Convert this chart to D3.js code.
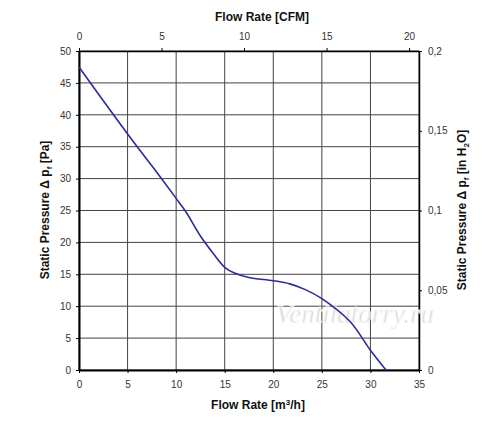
<!DOCTYPE html>
<html>
<head>
<meta charset="utf-8">
<script src="https://cdn.jsdelivr.net/npm/d3@7"></script>
<style>
  body { margin: 0; background: #fff; }
  text { font-family: Arial, "Liberation Sans", sans-serif; }
</style>
</head>
<body>
<svg id="chart" width="500" height="421"></svg>
<script>
// curve: flow in m3/h, static pressure in Pa
var flowM3h = [0, 2.5, 5, 7.5, 10, 11, 12.5, 13.8, 15, 16, 17.5, 20, 21.7, 23.3, 25, 27.9, 30, 31.6];
var pressurePa = [47.5, 42.2, 37, 32, 26.9, 24.8, 21, 18.3, 16.1, 15.2, 14.5, 14.0, 13.5, 12.6, 11.2, 7.6, 3.1, 0];

var bottomTicks = [0, 5, 10, 15, 20, 25, 30, 35];
var leftTicks = [0, 5, 10, 15, 20, 25, 30, 35, 40, 45, 50];
var topTicks = [0, 5, 10, 15, 20];
var rightTicks = [0, 0.05, 0.1, 0.15, 0.2];

var M3H_TO_CFM = 0.5886;

var svg = d3.select("#chart");
// plot box (note: "top" is a reserved window global, so use p-prefixed names)
var pLeft = 79, pRight = 419, pTop = 51, pBottom = 370;

var x = d3.scaleLinear().domain([0, 35]).range([pLeft, pRight]);
var y = d3.scaleLinear().domain([0, 50]).range([pBottom, pTop]);
var xTop = d3.scaleLinear().domain([0, 35 * M3H_TO_CFM]).range([pLeft, pRight]);
var yRight = d3.scaleLinear().domain([0, 0.2]).range([pBottom, pTop]);

// grid
var grid = svg.append("g");
grid.selectAll(".vg")
    .data(bottomTicks)
    .enter().append("line")
    .attr("x1", function (d) { return x(d); })
    .attr("x2", function (d) { return x(d); })
    .attr("y1", pTop).attr("y2", pBottom)
    .style("stroke", "#444").style("stroke-width", 1);
grid.selectAll(".hg")
    .data(leftTicks)
    .enter().append("line")
    .attr("x1", pLeft).attr("x2", pRight)
    .attr("y1", function (d) { return y(d); })
    .attr("y2", function (d) { return y(d); })
    .style("stroke", "#444").style("stroke-width", 1);

function styleAxis(g, w) {
    g.select(".domain").style("stroke", "#000").style("stroke-width", w);
    g.selectAll(".tick line").style("stroke", "#000");
    g.selectAll(".tick text").style("font-size", "10px").style("fill", "#333");
}

var comma = function (d) { return String(d).replace(".", ","); };

var gB = svg.append("g").attr("transform", "translate(0," + pBottom + ")")
    .call(d3.axisBottom(x).tickValues(bottomTicks).tickSize(3).tickSizeOuter(0).tickPadding(8));
styleAxis(gB, 2);
var gL = svg.append("g").attr("transform", "translate(" + pLeft + ",0)")
    .call(d3.axisLeft(y).tickValues(leftTicks).tickSize(3).tickSizeOuter(0).tickPadding(5));
styleAxis(gL, 2);
var gT = svg.append("g").attr("transform", "translate(0," + pTop + ")")
    .call(d3.axisTop(xTop).tickValues(topTicks).tickSize(3).tickSizeOuter(0).tickPadding(8));
styleAxis(gT, 1.5);
var gR = svg.append("g").attr("transform", "translate(" + pRight + ",0)")
    .call(d3.axisRight(yRight).tickValues(rightTicks).tickFormat(comma).tickSize(3).tickSizeOuter(0).tickPadding(6));
styleAxis(gR, 1.5);

// watermark
svg.append("text")
    .attr("x", 355).attr("y", 323)
    .attr("text-anchor", "middle")
    .style("font-family", "'Liberation Serif', 'DejaVu Serif', serif")
    .style("font-style", "italic")
    .style("font-size", "27px")
    .style("fill", "#d2d2d2")
    .style("stroke", "#fafafa").style("stroke-width", 0.8)
    .style("opacity", 0.9)
    .text("Ventilatorry.ru");

// curve
var pts = flowM3h.map(function (f, i) { return [f, pressurePa[i]]; });
var line = d3.line()
    .x(function (d) { return x(d[0]); })
    .y(function (d) { return y(d[1]); })
    .curve(d3.curveCatmullRom.alpha(0.5));
svg.append("path")
    .datum(pts)
    .attr("d", line)
    .style("fill", "none")
    .style("stroke", "#2b2b9c")
    .style("stroke-width", 1.6);

// titles
svg.append("text")
    .attr("x", 262).attr("y", 21).attr("text-anchor", "middle")
    .style("font-size", "12px").style("font-weight", "bold").style("fill", "#111")
    .text("Flow Rate [CFM]");

var bt = svg.append("text")
    .attr("x", 258).attr("y", 409).attr("text-anchor", "middle")
    .style("font-size", "12px").style("font-weight", "bold").style("fill", "#111");
bt.append("tspan").text("Flow Rate [m");
bt.append("tspan").attr("dy", -4).style("font-size", "8px").text("3");
bt.append("tspan").attr("dy", 4).text("/h]");

var lt = svg.append("text")
    .attr("transform", "translate(49,210) rotate(-90)")
    .attr("text-anchor", "middle")
    .style("font-size", "12px").style("font-weight", "bold").style("fill", "#111");
lt.append("tspan").text("Static Pressure Δ p");
lt.append("tspan").attr("dy", 3).style("font-size", "8px").text("f");
lt.append("tspan").attr("dy", -3).text(" [Pa]");

var rt = svg.append("text")
    .attr("transform", "translate(466,210) rotate(-90)")
    .attr("text-anchor", "middle")
    .style("font-size", "12px").style("font-weight", "bold").style("fill", "#111");
rt.append("tspan").text("Static Pressure Δ p");
rt.append("tspan").attr("dy", 3).style("font-size", "8px").text("f");
rt.append("tspan").attr("dy", -3).text(" [in H");
rt.append("tspan").attr("dy", 3).style("font-size", "8px").text("2");
rt.append("tspan").attr("dy", -3).text("O]");
</script>
</body>
</html>
